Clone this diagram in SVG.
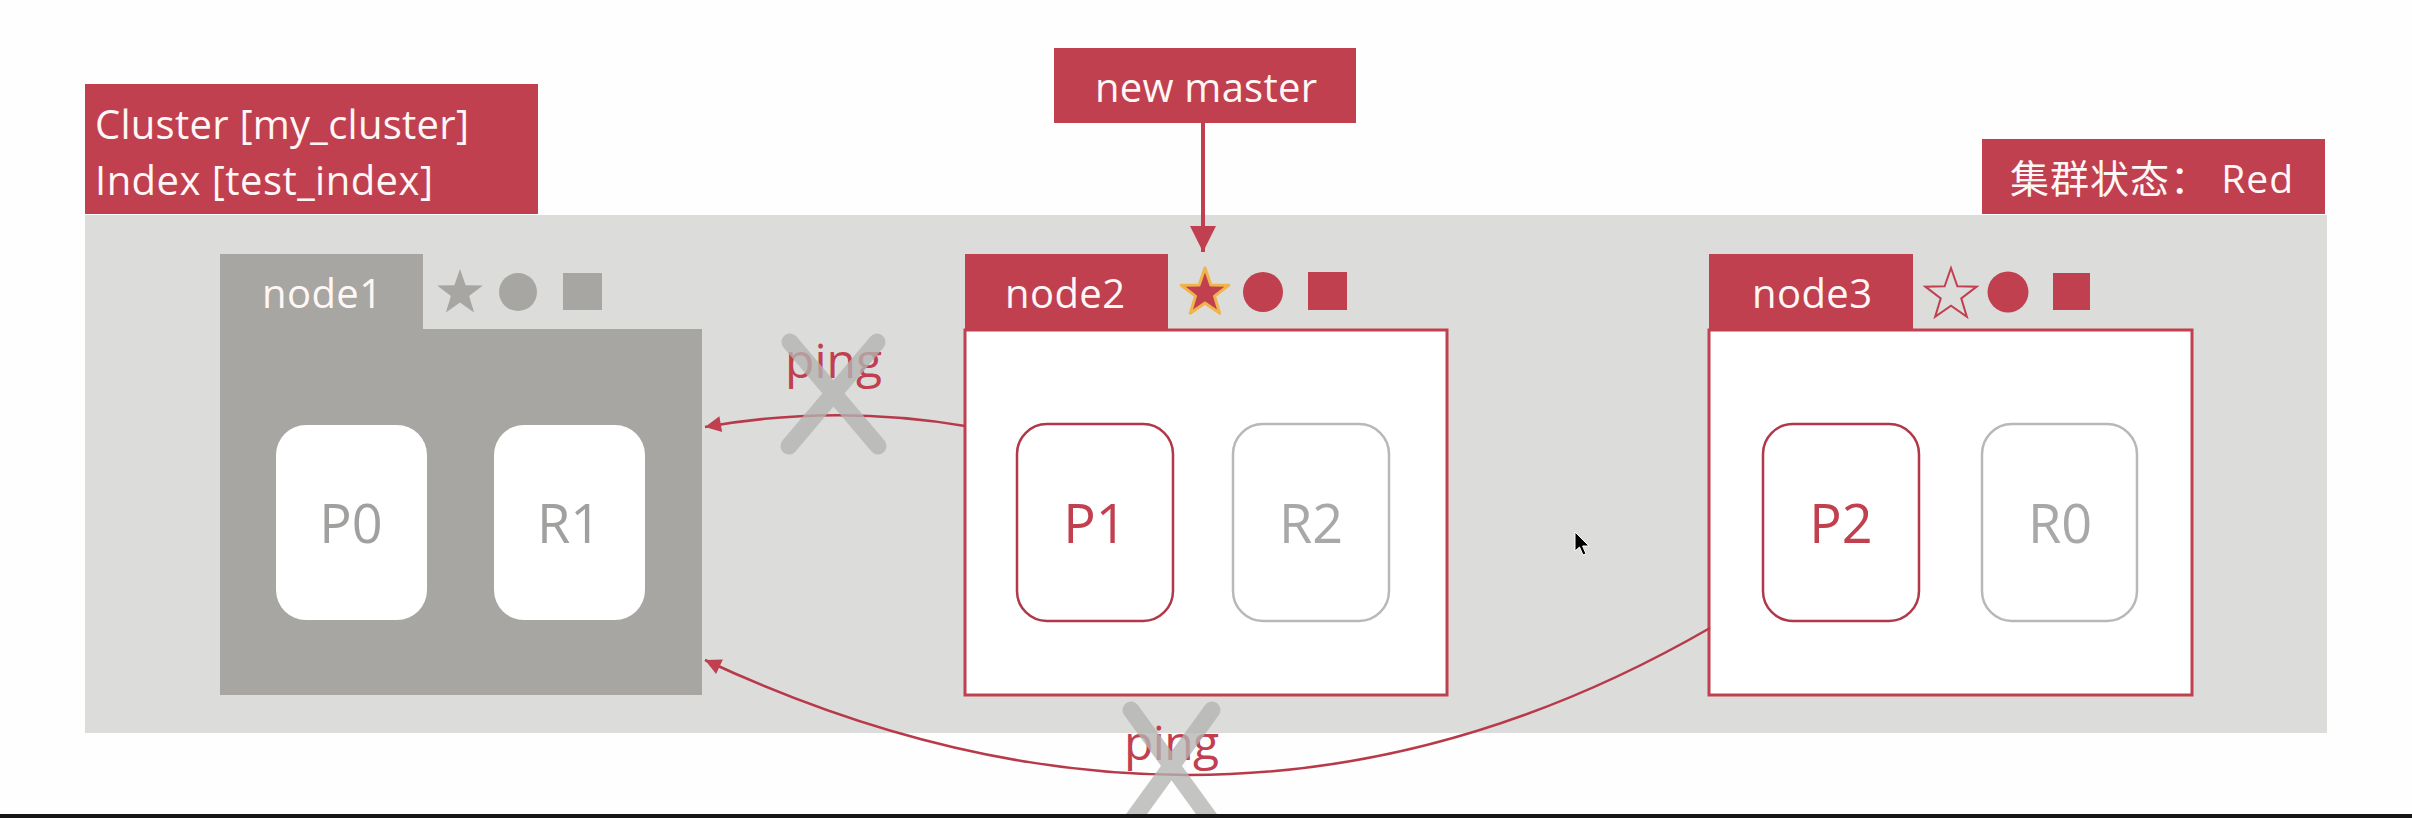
<svg xmlns="http://www.w3.org/2000/svg" width="2412" height="818" viewBox="0 0 2412 818">
<style>
.lbl{font-family:"Open Sans","Noto Sans CJK SC",sans-serif;fill:#fff6f6}
.tab{fill:#c0404f}
.box{fill:#ffffff;stroke:#c0404f;stroke-width:3}
.red{fill:#c0404f}
.gray{fill:#a7a6a2}
.shard{font-family:"Open Sans",sans-serif;font-size:54px;text-anchor:middle}
.pbox{fill:#ffffff;stroke:#b03848;stroke-width:2.5}
.rbox{fill:#ffffff;stroke:#b8b8b8;stroke-width:2.5}
.wbox{fill:#ffffff}
.ping{font-family:"Open Sans",sans-serif;font-size:48px;fill:#c0404f}
.xmark{stroke:#b4b4b2;stroke-width:17;stroke-linecap:round;opacity:0.78;fill:none}
.conn{fill:none;stroke:#b83a4a;stroke-width:2.5}
</style>
<defs>
<marker id="ah" viewBox="0 0 10 10" refX="10" refY="5" markerUnits="userSpaceOnUse" markerWidth="22" markerHeight="16" orient="auto">
<path d="M0,0 L10,5 L0,10 z" fill="#c0404f"/>
</marker>
<marker id="ahbig" viewBox="0 0 10 10" refX="10" refY="5" markerUnits="userSpaceOnUse" markerWidth="26" markerHeight="30" orient="auto">
<path d="M0,0 L10,5 L0,10 z" fill="#c0404f"/>
</marker>
</defs>
<rect x="0" y="0" width="2412" height="818" fill="#fdfefd"/>
<rect x="85" y="215" width="2242" height="518" fill="#dcdddb"/>

<g id="cluster-label">
<rect x="85" y="84" width="453" height="130" class="tab"/>
<text class="lbl" x="95" y="139" font-size="40" textLength="374">Cluster [my_cluster]</text>
<text class="lbl" x="95" y="195" font-size="40" textLength="338">Index [test_index]</text>
</g>

<g id="status-label">
<rect x="1982" y="139" width="343" height="75" class="tab"/>
<text class="lbl" x="2010" y="193" font-size="39" textLength="283">集群状态： Red</text>
</g>

<g id="new-master">
<rect x="1054" y="48" width="302" height="75" class="tab"/>
<text class="lbl" x="1095" y="102" font-size="40" textLength="222">new master</text>
</g>

<g id="node1">
<path d="M220,254 H423 V329 H702 V695 H220 Z" class="gray"/>
<text class="lbl" x="262" y="308" font-size="40" textLength="120">node1</text>
<polygon class="gray" points="460,269 465.64,285.24 482.83,285.58 469.13,295.96 474.11,312.42 460,302.6 445.89,312.42 450.87,295.96 437.17,285.58 454.36,285.24"/>
<circle cx="518" cy="292" r="19" class="gray"/>
<rect x="563" y="273" width="39" height="37" class="gray"/>
<rect x="276" y="425" width="151" height="195" rx="30" class="wbox"/>
<rect x="494" y="425" width="151" height="195" rx="30" class="wbox"/>
<text class="shard" x="351" y="543" fill="#a0a09e">P0</text>
<text class="shard" x="569" y="543" fill="#a0a09e">R1</text>
</g>

<g id="node2">
<rect x="965" y="254" width="203" height="76" class="tab"/>
<rect x="965" y="330" width="482" height="365" class="box"/>
<text class="lbl" x="1005" y="308" font-size="40" textLength="120">node2</text>
<polygon points="1205,268 1210.88,284.91 1228.78,285.27 1214.51,296.09 1219.69,313.23 1205,303 1190.31,313.23 1195.49,296.09 1181.22,285.27 1199.12,284.91" fill="#c0404f" stroke="#f1b44c" stroke-width="3" stroke-linejoin="round"/>
<circle cx="1263" cy="292" r="20" class="red"/>
<rect x="1308" y="272" width="39" height="38" class="red"/>
<rect x="1017" y="424" width="156" height="197" rx="30" class="pbox"/>
<rect x="1233" y="424" width="156" height="197" rx="30" class="rbox"/>
<text class="shard" x="1095" y="543" fill="#c0404f">P1</text>
<text class="shard" x="1311" y="543" fill="#a8a8a8">R2</text>
</g>

<g id="node3">
<rect x="1709" y="254" width="204" height="76" class="tab"/>
<rect x="1709" y="330" width="483" height="365" class="box"/>
<text class="lbl" x="1752" y="308" font-size="40" textLength="120">node3</text>
<polygon points="1951,268 1957.35,286.26 1976.68,286.66 1961.27,298.34 1966.87,316.84 1951,305.8 1935.13,316.84 1940.73,298.34 1925.32,286.66 1944.65,286.26" fill="none" stroke="#c0404f" stroke-width="2" stroke-linejoin="miter"/>
<circle cx="2008" cy="292" r="20.5" class="red"/>
<rect x="2053" y="273" width="37" height="37" class="red"/>
<rect x="1763" y="424" width="156" height="197" rx="30" class="pbox"/>
<rect x="1982" y="424" width="155" height="197" rx="30" class="rbox"/>
<text class="shard" x="1841" y="543" fill="#c0404f">P2</text>
<text class="shard" x="2060" y="543" fill="#a8a8a8">R0</text>
</g>

<g id="connectors">
<line x1="1203" y1="123" x2="1203" y2="252" stroke="#c0404f" stroke-width="4" marker-end="url(#ahbig)"/>
<path d="M965,426 Q835,404 705,427" class="conn" marker-end="url(#ah)"/>
<path d="M1710,628 Q1230,905 705,660" class="conn" marker-end="url(#ah)"/>
</g>

<g id="ping-labels">
<text class="ping" x="785" y="378" textLength="97">ping</text>
<path class="xmark" d="M790,342 L878,446 M877,342 L789,446"/>
<text class="ping" x="1124" y="760" textLength="95">ping</text>
<path class="xmark" d="M1131,710 L1218,830 M1212,710 L1125,830"/>
</g>

<rect x="0" y="814" width="2412" height="4" fill="#161616"/>
<path d="M1575,532 L1575,551 L1579.5,547 L1583,555 L1586,553.8 L1582.6,546 L1589,546 Z" fill="#000" stroke="#ffffff" stroke-width="1"/>
</svg>
